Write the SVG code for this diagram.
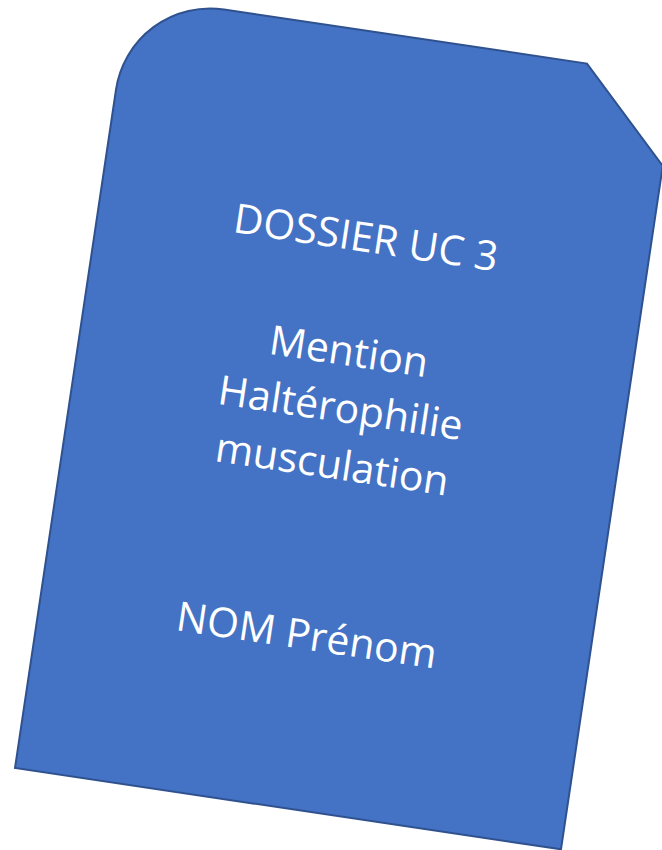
<svg xmlns="http://www.w3.org/2000/svg" width="662" height="850" viewBox="0 0 662 850">
  <style>
    .card { fill: #4472C4; stroke: #2F528F; stroke-width: 2; stroke-linejoin: miter; }
    .lbl { font-family: "Open Sans", "Liberation Sans", sans-serif; font-size: 41px; fill: #FFFFFF; text-anchor: middle; }
  </style>
  <rect width="662" height="850" fill="#FFFFFF"/>
  <g id="dossier-card" transform="translate(15,768) rotate(8.47) translate(0,-781)">
    <path class="card" d="M 95,0 L 462,0 L 552,90 L 552,781 L 0,781 L 0,95 A 95 95 0 0 1 95,0 Z"/>
    <text class="lbl" x="269" y="219">DOSSIER UC 3</text>
    <text class="lbl" x="269" y="334">Mention</text>
    <text class="lbl" x="269" y="391">Haltérophilie</text>
    <text class="lbl" x="269" y="448">musculation</text>
    <text class="lbl" x="269" y="621">NOM Prénom</text>
  </g>
  <g id="connectors"/>
</svg>
